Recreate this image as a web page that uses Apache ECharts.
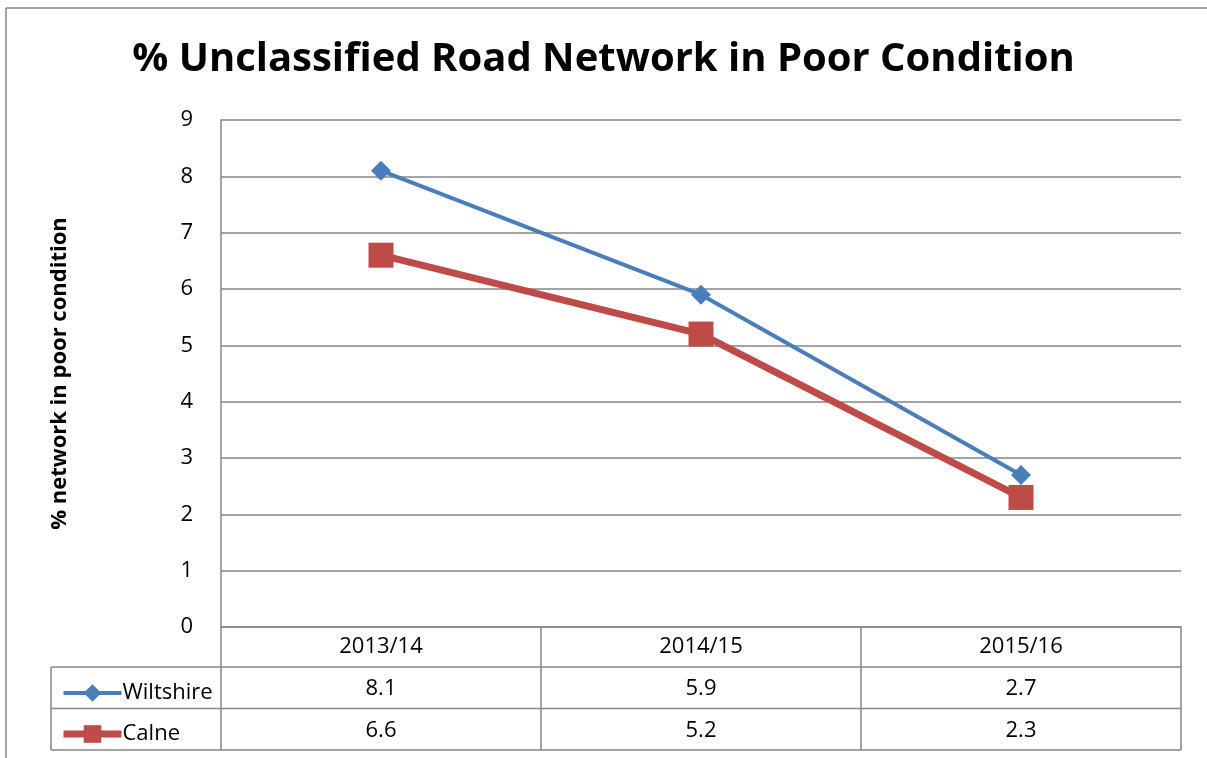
<!DOCTYPE html>
<html><head><meta charset="utf-8">
<script src="https://cdn.jsdelivr.net/npm/echarts@6/dist/echarts.min.js"></script>
<style>html,body{margin:0;padding:0;background:#fff}#c{width:1207px;height:758px}</style>
</head><body><div id="c"></div>
<script>
var categories = ['2013/14', '2014/15', '2015/16'];
var wiltshire = [8.1, 5.9, 2.7];
var calne = [6.6, 5.2, 2.3];
var yTicks = [0, 1, 2, 3, 4, 5, 6, 7, 8, 9];

var FONT = '"Open Sans", "Noto Sans", sans-serif';
var G = {left: 221, right: 26, top: 120, bottom: 131};
var chart = echarts.init(document.getElementById('c'));
var gridColor = '#868686';

var option = {
  animation: false,
  backgroundColor: '#fff',
  textStyle: {fontFamily: FONT},
  title: {
    text: '% Unclassified Road Network in Poor Condition',
    left: 'center', top: 35,
    textStyle: {fontSize: 40, fontWeight: 'bold', color: '#000', fontFamily: FONT}
  },
  legend: {
    orient: 'vertical', left: 55, top: 677, itemGap: 19,
    itemWidth: 58, itemHeight: 22,
    lineStyle: {width: 'inherit'},
    textStyle: {fontSize: 22, lineHeight: 22, color: '#000', fontFamily: FONT, padding: [0, 0, 0, -4]},
    data: ['Wiltshire', 'Calne']
  },
  grid: G,
  xAxis: {
    type: 'category', data: categories, boundaryGap: true,
    axisLine: {lineStyle: {color: gridColor, width: 1.5}},
    axisTick: {show: true, length: 40, interval: 0, lineStyle: {color: gridColor, width: 1.5}},
    axisLabel: {fontSize: 22, color: '#000', margin: 9, fontFamily: FONT}
  },
  yAxis: {
    type: 'value', min: yTicks[0], max: yTicks[yTicks.length - 1], interval: 1,
    name: '% network in poor condition', nameLocation: 'middle', nameGap: 150,
    nameTextStyle: {fontSize: 22, fontWeight: 'bold', color: '#000', fontFamily: FONT},
    axisLine: {show: true, lineStyle: {color: gridColor, width: 1.5}},
    axisTick: {show: false},
    splitLine: {lineStyle: {color: gridColor, width: 1.5}},
    axisLabel: {fontSize: 22, color: '#000', margin: 28, fontFamily: FONT}
  },
  series: [
    {name: 'Wiltshire', type: 'line', data: wiltshire, symbol: 'diamond', symbolSize: 20,
     lineStyle: {color: '#4A7EBB', width: 4}, itemStyle: {color: '#4A7EBB'}},
    {name: 'Calne', type: 'line', data: calne, symbol: 'rect', symbolSize: 25,
     lineStyle: {color: '#BE4B48', width: 7}, itemStyle: {color: '#BE4B48'}}
  ]
};
chart.setOption(option);

// Data table under the axis
var x0 = chart.convertToPixel({xAxisIndex: 0}, 0);
var x1 = chart.convertToPixel({xAxisIndex: 0}, 1);
var half = (x1 - x0) / 2;
var yAxis0 = chart.convertToPixel({yAxisIndex: 0}, 0);
var rowH = 41.5;
var hdrBottom = yAxis0 + 40;
var leftCol = 51;
var rightEdge = x0 - half + categories.length * half * 2;
var els = [];
var ls = {stroke: gridColor, lineWidth: 1.5};
[0, 1, 2].forEach(function (i) {
  var yy = hdrBottom + i * rowH;
  els.push({type: 'line', shape: {x1: leftCol, y1: yy, x2: rightEdge, y2: yy}, style: ls, silent: true});
});
for (var k = 0; k <= categories.length; k++) {
  var xx = x0 - half + k * half * 2;
  els.push({type: 'line', shape: {x1: xx, y1: hdrBottom, x2: xx, y2: hdrBottom + 2 * rowH}, style: ls, silent: true});
}
els.push({type: 'line', shape: {x1: leftCol, y1: hdrBottom, x2: leftCol, y2: hdrBottom + 2 * rowH}, style: ls, silent: true});
[wiltshire, calne].forEach(function (arr, r) {
  arr.forEach(function (v, i) {
    els.push({type: 'text', silent: true,
      x: chart.convertToPixel({xAxisIndex: 0}, i), y: hdrBottom + r * rowH + rowH / 2 + 1,
      style: {text: v.toFixed(1), fontSize: 22, fontFamily: FONT, fill: '#000', align: 'center', verticalAlign: 'middle'}});
  });
});
// outer chart-area border (left and top)
els.push({type: 'line', shape: {x1: 6, y1: 8, x2: 1207, y2: 8}, style: ls, silent: true});
els.push({type: 'line', shape: {x1: 6, y1: 8, x2: 6, y2: 758}, style: ls, silent: true});
chart.setOption({graphic: {elements: els}});
</script></body></html>
